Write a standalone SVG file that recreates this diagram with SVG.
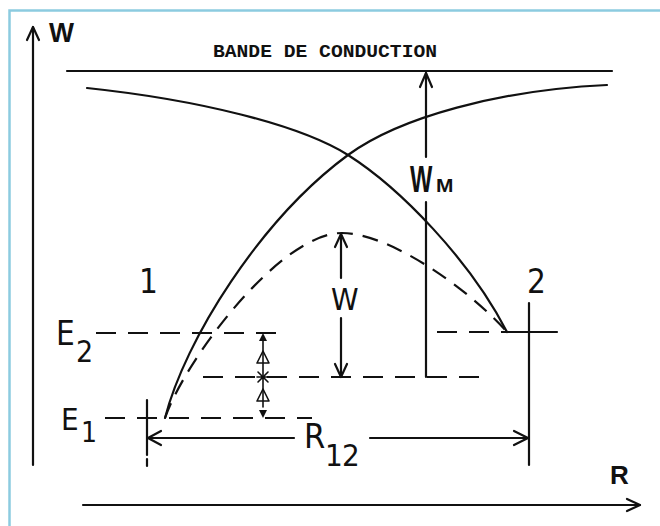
<svg xmlns="http://www.w3.org/2000/svg" width="660" height="526" viewBox="0 0 660 526">
<style>
.ln{fill:none;stroke:#111;stroke-width:2.2;stroke-linecap:round;stroke-linejoin:round}
.th{fill:none;stroke:#111;stroke-width:1.6;stroke-linecap:round;stroke-linejoin:round}
.da{fill:none;stroke:#111;stroke-width:2.2;stroke-dasharray:20 12}
.dc{fill:none;stroke:#111;stroke-width:2.2;stroke-dasharray:16 10}
.nar{font-family:"Liberation Sans Narrow","DejaVu Sans Condensed","Liberation Sans",sans-serif;fill:#111}
.bold{font-family:"Liberation Sans","DejaVu Sans",sans-serif;font-weight:bold;fill:#111}
.mono{font-family:"Liberation Mono","DejaVu Sans Mono",monospace;font-weight:bold;fill:#111}
</style>
<rect x="0" y="0" width="660" height="526" fill="#fff"/>
<g id="frame">
<path d="M9.5,526 V10.5 H660" fill="none" stroke="#8ccbe0" stroke-width="2.5"/>
</g>
<g id="axes">
<path class="ln" d="M33,465 V27"/>
<path class="ln" d="M27,40 L33,27 L39,40"/>
<text class="bold" x="49" y="42" font-size="28" textLength="25" lengthAdjust="spacingAndGlyphs">W</text>
<path class="ln" d="M83,505 H640"/>
<path class="ln" d="M627,499 L640,505 L627,511"/>
<text class="bold" x="610" y="484" font-size="26">R</text>
</g>
<g id="band">
<text class="mono" x="213" y="57" font-size="19" textLength="224" lengthAdjust="spacingAndGlyphs">BANDE DE CONDUCTION</text>
<path class="ln" d="M67,71 H612"/>
</g>
<g id="curves">
<path class="ln" d="M87,88 C200,100 300,125 348,155 C400,188 470,260 507,332"/>
<path class="ln" d="M165,418 C185,340 260,220 348,155 C400,117 500,90 607,85"/>
<path class="dc" d="M165,418 C185,360 280,233 342,233 C390,233 470,290 507,332"/>
</g>
<g id="levels">
<path class="da" d="M96,333 H280"/>
<path class="da" d="M203,377 H485"/>
<path class="da" d="M105,418 H312"/>
<path class="da" d="M437,332 H507"/>
<path class="ln" d="M507,332 H557"/>
<path class="ln" d="M147,400 V455"/>
<path class="ln" d="M147,459 V466"/>
<path class="ln" d="M529,303 V465"/>
</g>
<g id="connectors">
<path class="ln" d="M426,377 V202 M426,157 V73"/>
<path class="ln" d="M420,87 L426,73 L432,87"/>
<path class="ln" d="M341,377 V318 M341,278 V234"/>
<path class="ln" d="M335,247 L341,234 L347,247"/>
<path class="ln" d="M335,364 L341,377 L347,364"/>
<path class="ln" d="M148,438 H294 M370,438 H528"/>
<path class="ln" d="M161,431 L148,438 L161,445"/>
<path class="ln" d="M514,431 L528,438 L514,445"/>
<path class="th" d="M263,338 V407"/>
<path d="M259,341 L263,333 L267,341 Z" fill="#111"/>
<path d="M259,410 L263,418 L267,410 Z" fill="#111"/>
<path class="th" d="M263,351 L257,363 H269 Z" fill="#fff"/>
<path class="th" d="M263,389 L257,401 H269 Z" fill="#fff"/>
<path class="th" d="M258,372 L268,382 M268,372 L258,382 M257,377 H269"/>
</g>
<g id="labels">
<text class="nar" x="139" y="293" font-size="33">1</text>
<text class="nar" x="527" y="293" font-size="33">2</text>
<text class="nar" x="56" y="345" font-size="33">E</text>
<text class="nar" x="76" y="362" font-size="30">2</text>
<text class="nar" x="61" y="430" font-size="31">E</text>
<text class="nar" x="81" y="442" font-size="28">1</text>
<text class="nar" x="331" y="310" font-size="31">W</text>
<text class="nar" x="304" y="448" font-size="34">R</text>
<text class="nar" x="325" y="466" font-size="31">1</text>
<text class="nar" x="342" y="466" font-size="31">2</text>
<text class="bold" font-size="37" transform="translate(410 192) scale(0.64 1)">W</text>
<text class="bold" font-size="19" transform="translate(436 192) scale(1.1 1)">M</text>
</g>
</svg>
